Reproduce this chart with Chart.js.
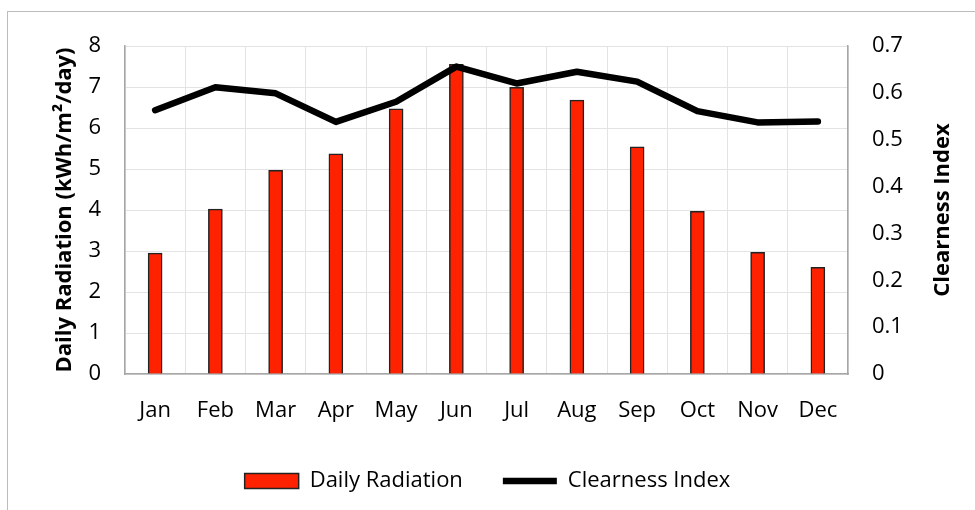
<!DOCTYPE html>
<html>
<head>
<meta charset="utf-8">
<script src="https://cdn.jsdelivr.net/npm/chart.js@4.4.0/dist/chart.umd.min.js"></script>
<style>
  html, body { margin: 0; padding: 0; background: #fff; }
  #wrap { position: relative; width: 975px; height: 510px; overflow: hidden; }
  #frame { position: absolute; left: 7px; top: 11px; width: 1000px; height: 600px;
           border-left: 1.5px solid #bcbcbc; border-top: 1.5px solid #bcbcbc; }
  canvas { position: absolute; left: 0; top: 0; }
</style>
</head>
<body>
<div id="wrap">
  <div id="frame"></div>
  <canvas id="chart" width="975" height="510"></canvas>
</div>
<script>
const months = ['Jan', 'Feb', 'Mar', 'Apr', 'May', 'Jun', 'Jul', 'Aug', 'Sep', 'Oct', 'Nov', 'Dec'];
const dailyRadiation = [2.95, 4.02, 4.97, 5.37, 6.47, 7.55, 6.99, 6.68, 5.54, 3.97, 2.97, 2.6];
const clearnessIndex = [0.563, 0.612, 0.599, 0.538, 0.581, 0.656, 0.620, 0.645, 0.624, 0.561, 0.537, 0.539];

const font = '"Open Sans", Lato, sans-serif';
const fontSize = 22;
const ctx = document.getElementById('chart').getContext('2d');

// the right axis title reads bottom-to-top in the original, chart.js turns it the other way
const rightTitle = {
  id: 'rightTitle',
  afterDraw: (c) => {
    const s = c.scales.y2;
    const g = c.ctx;
    g.save();
    g.translate(s.right - 32, (c.chartArea.top + c.chartArea.bottom) / 2);
    g.rotate(-Math.PI / 2);
    g.font = 'bold ' + fontSize + 'px ' + font;
    g.fillStyle = '#000';
    g.textAlign = 'center';
    g.textBaseline = 'middle';
    g.fillText('Clearness Index', 0, 0);
    g.restore();
  }
};

const chart = new Chart(ctx, {
  data: {
    labels: months,
    datasets: [{
      type: 'line',
      label: 'Clearness Index',
      data: clearnessIndex,
      yAxisID: 'y2',
      borderColor: '#000',
      backgroundColor: '#000',
      borderWidth: 6.5,
      tension: 0,
      pointRadius: 0,
      borderJoinStyle: 'round',
      borderCapStyle: 'round',
      order: 0
    }, {
      type: 'bar',
      label: 'Daily Radiation',
      data: dailyRadiation,
      yAxisID: 'y',
      backgroundColor: '#ff2200',
      borderColor: '#222',
      borderWidth: 1.5,
      barThickness: 14,
      order: 1
    }]
  },
  options: {
    responsive: false,
    animation: false,
    layout: { padding: { left: 0, right: 0, top: 46, bottom: 8 } },
    plugins: {
      tooltip: { enabled: false },
      legend: {
        position: 'bottom',
        reverse: true,
        labels: {
          usePointStyle: true,
          pointStyleWidth: 54,
          boxHeight: 15,
          padding: 40,
          color: '#000',
          font: { family: font, size: fontSize },
          generateLabels: (c) => {
            const items = Chart.defaults.plugins.legend.labels.generateLabels(c);
            items.forEach(it => {
              if (it.text === 'Daily Radiation') {
                it.pointStyle = 'rect';
                it.lineWidth = 1.5;
                it.strokeStyle = '#222';
                it.fillStyle = '#ff2200';
              } else {
                it.pointStyle = 'line';
                it.lineWidth = 6.5;
                it.strokeStyle = '#000';
              }
            });
            return items;
          }
        }
      }
    },
    scales: {
      x: {
        grid: { offset: true, color: '#e3e3e3', drawTicks: false },
        border: { color: '#a6a6a6', width: 1.5 },
        ticks: { color: '#000', padding: 24, font: { family: font, size: fontSize } },
        afterFit: (s) => { s.height = 56; }
      },
      y: {
        position: 'left',
        min: 0, max: 8,
        grid: { color: '#e3e3e3', drawTicks: false },
        border: { color: '#a6a6a6', width: 1.5 },
        ticks: { stepSize: 1, color: '#000', padding: 24, font: { family: font, size: fontSize } },
        title: {
          display: true,
          text: 'Daily Radiation (kWh/m\u00b2/day)',
          color: '#000',
          font: { family: font, size: fontSize, weight: 'bold' },
          padding: { top: 52, bottom: 0 }
        },
        afterFit: (s) => { s.width = 125; }
      },
      y2: {
        position: 'right',
        min: 0, max: 0.7,
        grid: { drawOnChartArea: false, drawTicks: false },
        border: { color: '#a6a6a6', width: 1.5 },
        ticks: { stepSize: 0.1, color: '#000', padding: 24, font: { family: font, size: fontSize },
                 callback: (v) => v === 0 ? '0' : v.toFixed(1) },
        afterFit: (s) => { s.width = 127; }
      }
    }
  },
  plugins: [rightTitle]
});
</script>
</body>
</html>
